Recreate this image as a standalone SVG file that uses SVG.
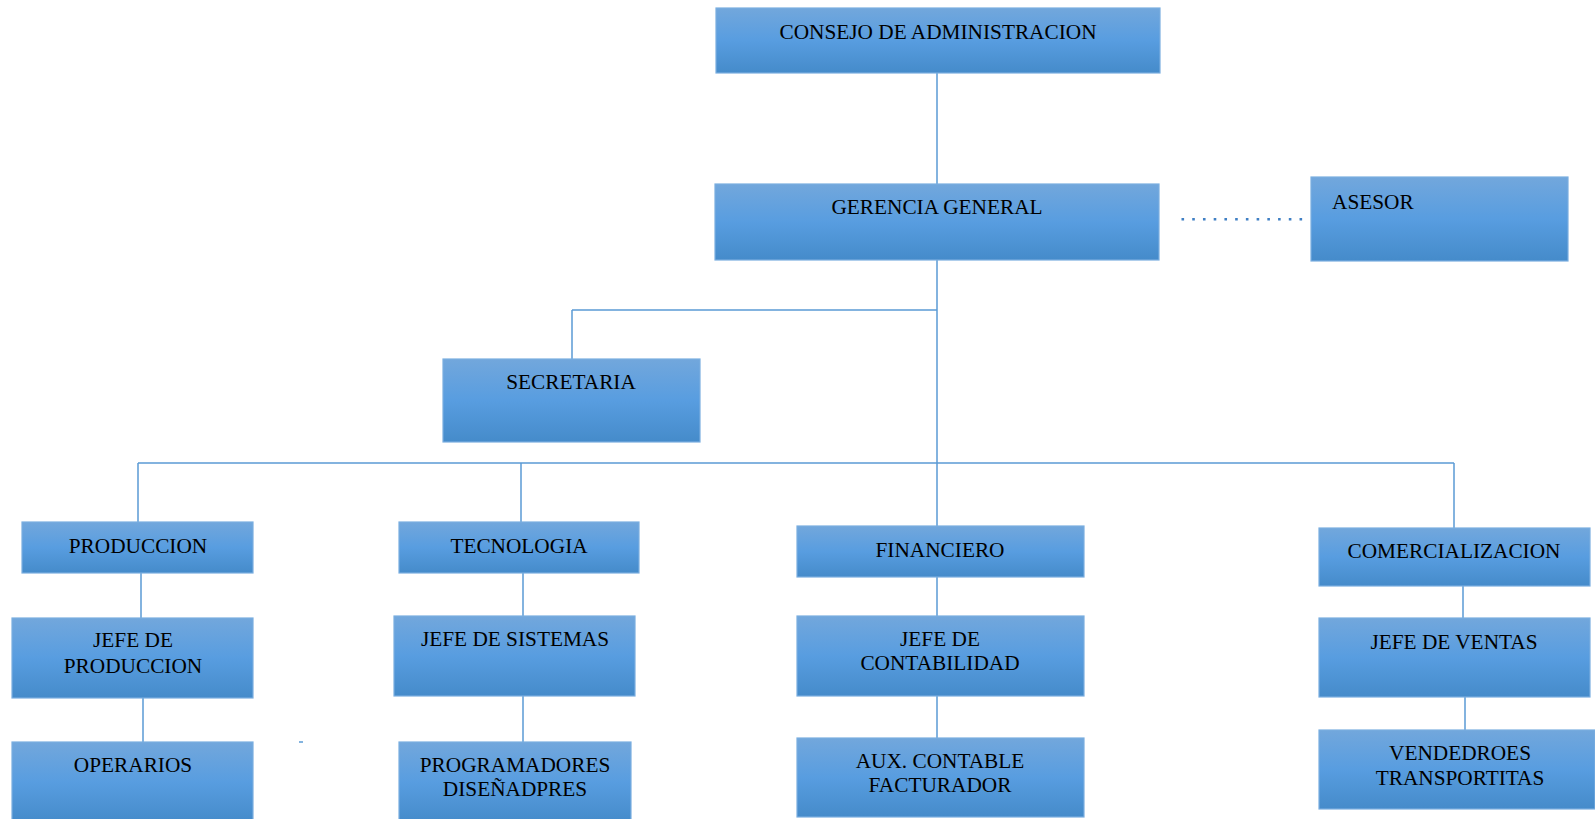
<svg xmlns="http://www.w3.org/2000/svg" width="1595" height="819" viewBox="0 0 1595 819">
<defs>
<linearGradient id="g" x1="0" y1="0" x2="0" y2="1">
<stop offset="0" stop-color="#72a7dc"/>
<stop offset="0.5" stop-color="#589de0"/>
<stop offset="1" stop-color="#458bca"/>
</linearGradient>
<style>
.box{fill:url(#g);stroke:#7aaee0;stroke-width:1.2}
.t{font-family:"Liberation Serif","Times New Roman",serif;font-size:21.3px;fill:#000;text-anchor:middle}
.c{stroke:#5b9bd5;stroke-width:1.5;fill:none}
.d{stroke:#3f7fc4;stroke-width:2.4;fill:none;stroke-dasharray:2.6 8.13}
</style>
</defs>
<rect width="1595" height="819" fill="#fff"/>
<g id="connectors">
<path class="c" d="M937 73V184M937 260V526M572 310H937M572 310V359M138 463H1454M138 463V522M521 463V522M1454 463V528"/>
<path class="c" d="M141 573V618M143 698V742M523 573V616M523 696V742M937 577V616M937 696V738M1463 586V618M1465 697V730"/>
<path class="d" d="M1181.5 219.3H1302.5"/>
<path class="c" d="M299 742H303"/>
</g>
<g id="consejo"><rect class="box" x="716" y="8" width="444" height="65"/><text class="t" x="938" y="39">CONSEJO DE ADMINISTRACION</text></g>
<g id="gerencia"><rect class="box" x="715" y="184" width="444" height="76"/><text class="t" x="937" y="214">GERENCIA GENERAL</text></g>
<g id="asesor"><rect class="box" x="1311" y="177" width="257" height="84"/><text class="t" x="1332" y="209" style="text-anchor:start">ASESOR</text></g>
<g id="secretaria"><rect class="box" x="443" y="359" width="257" height="83"/><text class="t" x="571" y="389">SECRETARIA</text></g>
<g id="produccion"><rect class="box" x="22" y="522" width="231" height="51"/><text class="t" x="138" y="553">PRODUCCION</text></g>
<g id="tecnologia"><rect class="box" x="399" y="522" width="240" height="51"/><text class="t" x="519" y="553">TECNOLOGIA</text></g>
<g id="financiero"><rect class="box" x="797" y="526" width="287" height="51"/><text class="t" x="940" y="557">FINANCIERO</text></g>
<g id="comercializacion"><rect class="box" x="1319" y="528" width="271" height="58"/><text class="t" x="1454" y="558">COMERCIALIZACION</text></g>
<g id="jefe-produccion"><rect class="box" x="12" y="618" width="241" height="80"/><text class="t" x="133" y="647">JEFE DE</text><text class="t" x="133" y="673">PRODUCCION</text></g>
<g id="jefe-sistemas"><rect class="box" x="394" y="616" width="241" height="80"/><text class="t" x="515" y="646">JEFE DE SISTEMAS</text></g>
<g id="jefe-contabilidad"><rect class="box" x="797" y="616" width="287" height="80"/><text class="t" x="940" y="646">JEFE DE</text><text class="t" x="940" y="670">CONTABILIDAD</text></g>
<g id="jefe-ventas"><rect class="box" x="1319" y="618" width="271" height="79"/><text class="t" x="1454" y="649">JEFE DE VENTAS</text></g>
<g id="operarios"><rect class="box" x="12" y="742" width="241" height="80"/><text class="t" x="133" y="772">OPERARIOS</text></g>
<g id="programadores"><rect class="box" x="399" y="742" width="232" height="80"/><text class="t" x="515" y="772">PROGRAMADORES</text><text class="t" x="515" y="796">DISEÑADPRES</text></g>
<g id="aux-contable"><rect class="box" x="797" y="738" width="287" height="79"/><text class="t" x="940" y="768">AUX. CONTABLE</text><text class="t" x="940" y="792">FACTURADOR</text></g>
<g id="vendedores"><rect class="box" x="1319" y="730" width="276" height="79"/><text class="t" x="1460" y="760">VENDEDROES</text><text class="t" x="1460" y="785">TRANSPORTITAS</text></g>
</svg>
